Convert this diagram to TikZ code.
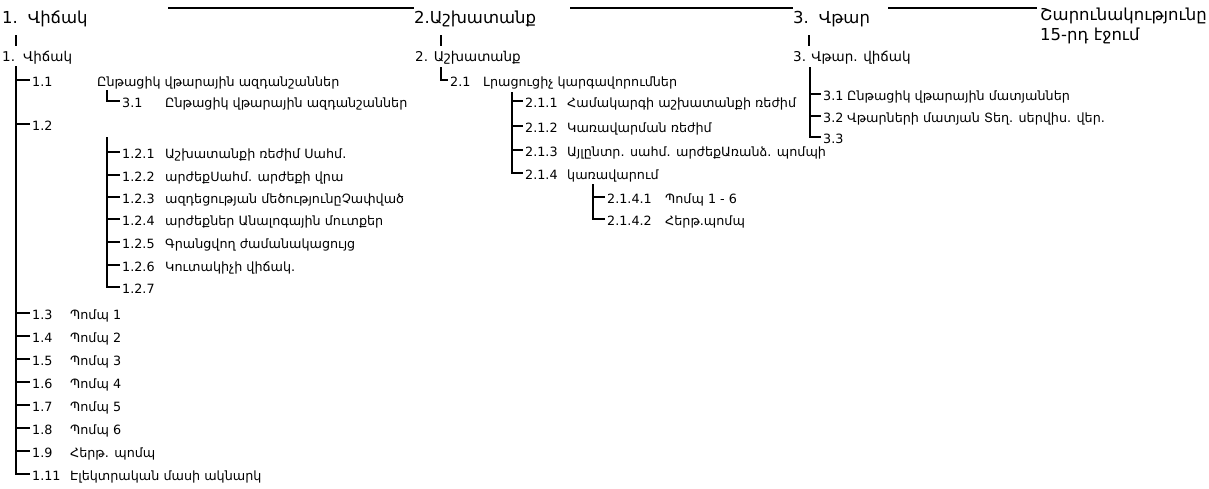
\documentclass[tikz,border=0pt]{standalone}
\usepackage{fontspec}
\setmainfont{DejaVu Sans}
\usetikzlibrary{positioning, calc}
\tikzset{
	titlenode/.style={
			anchor=west,
			inner sep=0pt,
			font=\fontsize{16.5}{20}\selectfont
		},
	headnode/.style={
			anchor=west,
			inner sep=0pt,
			font=\fontsize{13.5}{16}\selectfont
		},
	itemnode/.style={
			anchor=west,
			inner xsep=2pt,
			inner ysep=0pt,
			text height=13pt,
			text depth=0pt,
			font=\fontsize{12.75}{15}\selectfont
		},
	branch/.style={
			draw=black,
			line width=1.8pt
		}
}

\begin{document}
\begin{tikzpicture}[x=1pt, y=-1pt]
\useasboundingbox (0,0) rectangle (1209,488);

% top row
\node[titlenode] (t1) at (2,19) {1.\hspace{0.6em}Վիճակ};
\node[titlenode] (t2) at (414,19) {2.Աշխատանք};
\node[titlenode] (t3) at (793,19) {3.\hspace{0.6em}Վթար};
\node[titlenode, align=left] (cont) at (1040,26) {Շարունակությունը\\15-րդ էջում};

\coordinate (b1) at (168,8);
\coordinate (b2) at (570,8);
\coordinate (b3) at (888,8);
\draw[branch] (b1) -- (b1 -| t2.west);
\draw[branch] (b2) -- (b2 -| t3.west);
\draw[branch, shorten >=3pt] (b3) -- (b3 -| cont.west);

% second row
\node[headnode] (h1) at (2,58) {1.\hspace{0.6em}Վիճակ};
\node[headnode] (h2) at (415,58) {2. Աշխատանք};
\node[headnode] (h3) at (793,58) {3.\hspace{0.4em}Վթար. վիճակ};

\coordinate (k1) at (16,35);
\coordinate (k2) at (441,35);
\coordinate (k3) at (809,35);
\draw[branch, shorten >=5pt] (k1) -- (k1 |- h1.north);
\draw[branch, shorten >=5pt] (k2) -- (k2 |- h2.north);
\draw[branch, shorten >=5pt] (k3) -- (k3 |- h3.north);

% 1. Vichak
\coordinate (v1) at (16,66);
\node[itemnode] (n11) at (30,80) {1.1};
\node[itemnode] (n11t) at (95,80) {Ընթացիկ վթարային ազդանշաններ};
\coordinate (v11) at (107,90);
\node[itemnode] (n11s) at (120,101) {3.1};
\node[itemnode] (n11st) at (163,101) {Ընթացիկ վթարային ազդանշաններ};
\node[itemnode] (n12) at (30,124) {1.2};

\coordinate (v12) at (107,137);
\node[itemnode] (n121) at (120,152) {1.2.1};
\node[itemnode] (n121t) at (163,152) {Աշխատանքի ռեժիմ Սահմ.};
\node[itemnode] (n122) at (120,175) {1.2.2};
\node[itemnode] (n122t) at (163,175) {արժեքՍահմ. արժեքի վրա};
\node[itemnode] (n123) at (120,197) {1.2.3};
\node[itemnode] (n123t) at (163,197) {ազդեցության մեծությունըՉափված};
\node[itemnode] (n124) at (120,219) {1.2.4};
\node[itemnode] (n124t) at (163,219) {արժեքներ Անալոգային մուտքեր};
\node[itemnode] (n125) at (120,242) {1.2.5};
\node[itemnode] (n125t) at (163,242) {Գրանցվող ժամանակացույց};
\node[itemnode] (n126) at (120,265) {1.2.6};
\node[itemnode] (n126t) at (163,265) {Կուտակիչի վիճակ.};
\node[itemnode] (n127) at (120,287) {1.2.7};

\node[itemnode] (n13) at (30,313) {1.3};
\node[itemnode] (n13t) at (68,313) {Պոմպ 1};
\node[itemnode] (n14) at (30,336) {1.4};
\node[itemnode] (n14t) at (68,336) {Պոմպ 2};
\node[itemnode] (n15) at (30,359) {1.5};
\node[itemnode] (n15t) at (68,359) {Պոմպ 3};
\node[itemnode] (n16) at (30,382) {1.6};
\node[itemnode] (n16t) at (68,382) {Պոմպ 4};
\node[itemnode] (n17) at (30,405) {1.7};
\node[itemnode] (n17t) at (68,405) {Պոմպ 5};
\node[itemnode] (n18) at (30,428) {1.8};
\node[itemnode] (n18t) at (68,428) {Պոմպ 6};
\node[itemnode] (n19) at (30,451) {1.9};
\node[itemnode] (n19t) at (68,451) {Հերթ. պոմպ};
\node[itemnode] (n111) at (30,474) {1.11};
\node[itemnode] (n111t) at (68,474) {Էլեկտրական մասի ակնարկ};

\draw[branch] (v1) |- (n11.west);
\draw[branch] (v1) |- (n12.west);
\draw[branch] (v1) |- (n13.west);
\draw[branch] (v1) |- (n14.west);
\draw[branch] (v1) |- (n15.west);
\draw[branch] (v1) |- (n16.west);
\draw[branch] (v1) |- (n17.west);
\draw[branch] (v1) |- (n18.west);
\draw[branch] (v1) |- (n19.west);
\draw[branch] (v1) |- (n111.west);
\draw[branch] (v11) |- (n11s.west);
\draw[branch] (v12) |- (n121.west);
\draw[branch] (v12) |- (n122.west);
\draw[branch] (v12) |- (n123.west);
\draw[branch] (v12) |- (n124.west);
\draw[branch] (v12) |- (n125.west);
\draw[branch] (v12) |- (n126.west);
\draw[branch] (v12) |- (n127.west);

% 2. Ashkhatank
\coordinate (v2) at (441,67);
\node[itemnode] (n21) at (448,80) {2.1};
\node[itemnode] (n21t) at (481,80) {Լրացուցիչ կարգավորումներ};
\coordinate (v21) at (512,92);
\node[itemnode] (n211) at (523,101) {2.1.1};
\node[itemnode] (n211t) at (565,101) {Համակարգի աշխատանքի ռեժիմ};
\node[itemnode] (n212) at (523,126) {2.1.2};
\node[itemnode] (n212t) at (565,126) {Կառավարման ռեժիմ};
\node[itemnode] (n213) at (523,150) {2.1.3};
\node[itemnode] (n213t) at (565,150) {Այլընտր. սահմ. արժեքԱռանձ. պոմպի};
\node[itemnode] (n214) at (523,173) {2.1.4};
\node[itemnode] (n214t) at (565,173) {կառավարում};
\coordinate (v214) at (593,184);
\node[itemnode] (n2141) at (605,197) {2.1.4.1};
\node[itemnode] (n2141t) at (663,197) {Պոմպ 1 - 6};
\node[itemnode] (n2142) at (605,219) {2.1.4.2};
\node[itemnode] (n2142t) at (663,219) {Հերթ.պոմպ};

\draw[branch] (v2) |- (n21.west);
\draw[branch] (v21) |- (n211.west);
\draw[branch] (v21) |- (n212.west);
\draw[branch] (v21) |- (n213.west);
\draw[branch] (v21) |- (n214.west);
\draw[branch] (v214) |- (n2141.west);
\draw[branch] (v214) |- (n2142.west);

% 3. Vtar
\coordinate (v3) at (810,67);
\node[itemnode] (n31) at (821,94) {3.1};
\node[itemnode] (n31t) at (845,94) {Ընթացիկ վթարային մատյաններ};
\node[itemnode] (n32) at (821,116) {3.2};
\node[itemnode] (n32t) at (845,116) {Վթարների մատյան Տեղ. սերվիս. վեր.};
\node[itemnode] (n33) at (821,137) {3.3};

\draw[branch] (v3) |- (n31.west);
\draw[branch] (v3) |- (n32.west);
\draw[branch] (v3) |- (n33.west);
\end{tikzpicture}
\end{document}
